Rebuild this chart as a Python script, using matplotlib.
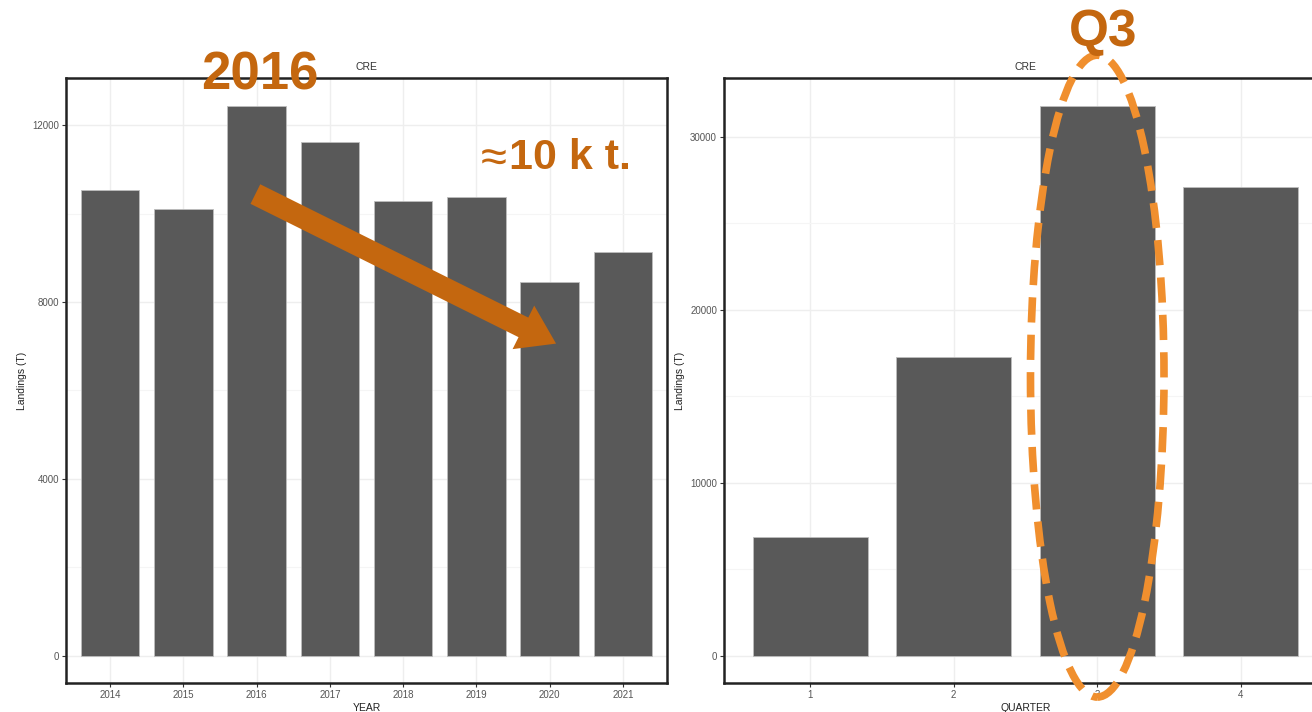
import numpy as np
import matplotlib
matplotlib.use("Agg")
import matplotlib.pyplot as plt
from matplotlib.patches import Ellipse

plt.rcParams['font.family'] = ['Liberation Sans', 'DejaVu Sans']

# yearly landings
years = ['2014', '2015', '2016', '2017', '2018', '2019', '2020', '2021']
landings_year = [10545, 10115, 12445, 11610, 10295, 10365, 8460, 9140]
year_ticks = [0, 4000, 8000, 12000]
year_minor = [2000, 6000, 10000]

# quarterly landings
quarters = ['1', '2', '3', '4']
landings_quarter = [6830, 17250, 31790, 27100]
quarter_ticks = [0, 10000, 20000, 30000]
quarter_minor = [5000, 15000, 25000]

BAR = '#595959'
ORANGE = '#C4670F'
LIGHT_ORANGE = '#F08F2E'


def gg_panel(ax, labels, values, ticks, minor, xlabel):
    pos = np.arange(1, len(labels) + 1)
    ax.bar(pos, values, width=0.8, color=BAR, edgecolor='#BDBDBD', lw=0.6, zorder=3)
    top = max(values)
    ax.set_ylim(-0.05 * top, 1.05 * top)
    ax.set_xlim(0.4, len(labels) + 0.6)
    ax.set_xticks(pos)
    ax.set_xticklabels(labels)
    ax.set_yticks(ticks)
    ax.set_yticklabels([str(t) for t in ticks])
    ax.set_yticks(minor, minor=True)
    ax.tick_params(which='minor', length=0)
    ax.grid(True, which='major', color='#EEEEEE', lw=1.0, zorder=0)
    ax.grid(True, which='minor', axis='y', color='#F5F5F5', lw=0.8, zorder=0)
    ax.tick_params(which='major', length=3, width=0.8, color='#333333',
                   labelsize=7, labelcolor='#555555', pad=2)
    for s in ax.spines.values():
        s.set_color('#222222')
        s.set_linewidth(1.8)
    ax.set_title('CRE', fontsize=7.5, color='#333333', pad=6)
    ax.set_ylabel('Landings (T)', fontsize=7.5, color='#222222', labelpad=4)
    ax.set_xlabel(xlabel, fontsize=7.5, color='#222222', labelpad=2)


fig = plt.figure(figsize=(13.12, 7.12), dpi=100)
ax1 = fig.add_axes([0.0503, 0.0407, 0.4581, 0.8497])
ax2 = fig.add_axes([0.5518, 0.0407, 0.4596, 0.8497])

gg_panel(ax1, years, landings_year, year_ticks, year_minor, 'YEAR')
gg_panel(ax2, quarters, landings_quarter, quarter_ticks, quarter_minor, 'QUARTER')

# annotations, left panel
ax1.annotate('', xy=(7.12, 7030), xytext=(2.95, 10470),
             arrowprops=dict(arrowstyle='simple,tail_width=0.45,head_width=1.0,head_length=0.75',
                             mutation_scale=35, color=ORANGE, lw=0),
             zorder=5, annotation_clip=False)
fig.text(260 / 1312, 1 - 75 / 712, '2016', fontsize=38, fontweight='bold',
         color=ORANGE, ha='center', va='center')
fig.text(507 / 1312, 1 - 160 / 712, '≈', fontsize=34, fontweight='normal',
         color=ORANGE, ha='right', va='center')
fig.text(509 / 1312, 1 - 158 / 712, '10 k t.', fontsize=31, fontweight='bold',
         color=ORANGE, ha='left', va='center')

# annotations, right panel
ell = Ellipse((3, 16150), width=0.93, height=37100, fill=False,
              edgecolor=LIGHT_ORANGE, lw=5.5, linestyle=(0, (3.3, 1.6)),
              clip_on=False, zorder=6)
ax2.add_patch(ell)
fig.text(1103 / 1312, 1 - 32 / 712, 'Q3', fontsize=37, fontweight='bold',
         color=ORANGE, ha='center', va='center')

fig.savefig('out.png', dpi=100)
